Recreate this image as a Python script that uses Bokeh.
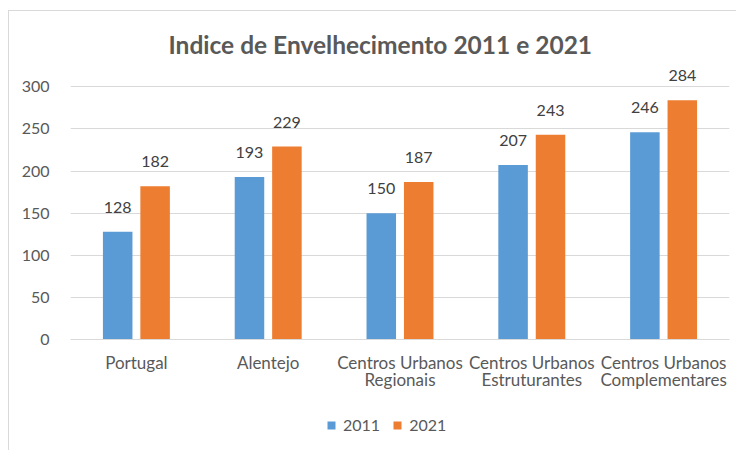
from bokeh.plotting import figure
from bokeh.layouts import column
from bokeh.models import ColumnDataSource, Legend, LegendItem, Range1d, FixedTicker, Title
from bokeh.core.properties import value
from bokeh.embed import file_html
from bokeh.resources import INLINE

categories = ["Portugal", "Alentejo", "Centros Urbanos\nRegionais",
              "Centros Urbanos\nEstruturantes", "Centros Urbanos\nComplementares"]
values_2011 = [128, 193, 150, 207, 246]
values_2021 = [182, 229, 187, 243, 284]
series_names = ["2011", "2021"]
y_ticks = [0, 50, 100, 150, 200, 250, 300]

FONT = "Lato"
GRAY = "#595959"
BLUE = "#5B9BD5"
ORANGE = "#ED7D31"
BORDER = "1px solid #d9d9d9"

idx = list(range(len(categories)))
src = ColumnDataSource(dict(
    x1=[i - 0.142 for i in idx], x2=[i + 0.142 for i in idx],
    v1=values_2011, v2=values_2021,
    t1=[str(v) for v in values_2011], t2=[str(v) for v in values_2021],
))

p = figure(width=728, height=400, output_backend="svg", toolbar_location=None,
           x_range=Range1d(-0.5, len(categories) - 0.5), y_range=Range1d(0, 330),
           min_border_left=61, min_border_right=8, min_border_top=50, min_border_bottom=72)
p.margin = (10, 0, 0, 8)
p.styles = {"border-left": BORDER, "border-top": BORDER}
p.outline_line_color = None
p.background_fill_color = "white"
p.border_fill_color = "white"

r1 = p.vbar(x="x1", top="v1", width=0.224, source=src, fill_color=BLUE, line_color=None)
r2 = p.vbar(x="x2", top="v2", width=0.224, source=src, fill_color=ORANGE, line_color=None)

p.text(x="x1", y="v1", text="t1", source=src, text_align="center", text_baseline="bottom",
       y_offset=-19, text_font_size="16px", text_color="#404040", text_font=value(FONT))
p.text(x="x2", y="v2", text="t2", source=src, text_align="center", text_baseline="bottom",
       y_offset=-19, text_font_size="16px", text_color="#404040", text_font=value(FONT))

p.title = Title(text="Indice de Envelhecimento 2011 e 2021", align="left",
                text_font=FONT, text_font_size="24.5px", text_color=GRAY,
                text_font_style="bold", offset=98, standoff=6)

p.yaxis.ticker = FixedTicker(ticks=y_ticks)
p.yaxis.axis_line_color = None
p.yaxis.major_tick_line_color = None
p.yaxis.minor_tick_line_color = None
p.yaxis.major_label_text_font = FONT
p.yaxis.major_label_text_font_size = "16px"
p.yaxis.major_label_text_color = GRAY
p.yaxis.major_label_standoff = 15

p.xaxis.ticker = FixedTicker(ticks=idx)
p.xaxis.major_label_overrides = {i: c for i, c in zip(idx, categories)}
p.xaxis.axis_line_color = "#d9d9d9"
p.xaxis.major_tick_line_color = None
p.xaxis.minor_tick_line_color = None
p.xaxis.major_label_text_font = FONT
p.xaxis.major_label_text_font_size = "17px"
p.xaxis.major_label_text_color = GRAY
p.xaxis.major_label_text_line_height = 0.85
p.xaxis.major_label_standoff = 6

p.xgrid.grid_line_color = None
p.ygrid.grid_line_color = "#d9d9d9"

# legend strip below the chart (same white card); hidden renderers only feed the legend swatches
p2 = figure(width=728, height=40, output_backend="svg", toolbar_location=None,
            x_range=Range1d(0, 1), y_range=Range1d(0, 1),
            x_axis_location=None, y_axis_location=None, min_border=0)
p2.margin = (0, 0, 0, 8)
p2.styles = {"border-left": BORDER}
p2.outline_line_color = None
p2.grid.visible = False
p2.background_fill_color = "white"
p2.border_fill_color = "white"
k1 = p2.vbar(x="x1", top="v1", width=0.224, source=src, fill_color=BLUE, line_color=None)
k2 = p2.vbar(x="x2", top="v2", width=0.224, source=src, fill_color=ORANGE, line_color=None)
k1.visible = False
k2.visible = False

legend = Legend(items=[LegendItem(label=series_names[0], renderers=[k1]),
                       LegendItem(label=series_names[1], renderers=[k2])],
                orientation="horizontal", location=(256, 16), click_policy="none",
                label_text_font=FONT, label_text_font_size="16px", label_text_color=GRAY,
                glyph_width=10, glyph_height=10, spacing=12, label_standoff=7,
                inactive_fill_alpha=0,
                background_fill_alpha=0, border_line_color=None, padding=0, margin=0)
p2.add_layout(legend, "center")

layout = column(p, p2, spacing=0)

html = file_html(layout, INLINE)
html = html.replace("<body>", '<body style="background:#f2f2f2; overflow:hidden">', 1)
open("out.html", "w").write(html)
